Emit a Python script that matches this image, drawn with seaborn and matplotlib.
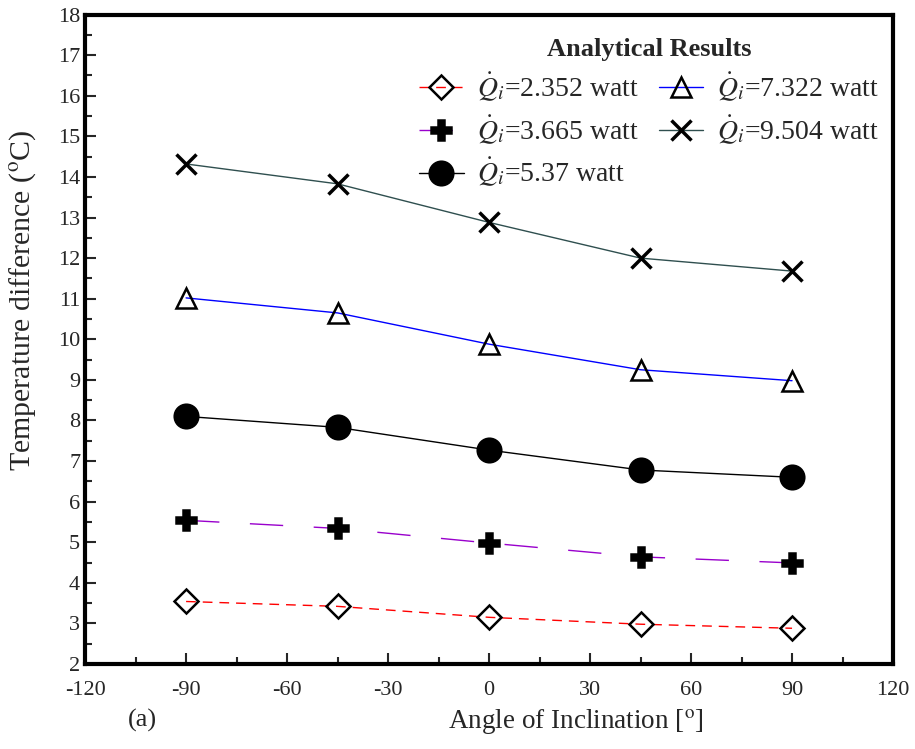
import numpy as np
import pandas as pd
import matplotlib
matplotlib.use("Agg")
import matplotlib.pyplot as plt
import seaborn as sns
from matplotlib.ticker import MultipleLocator

sns.set_style("white")
plt.rcParams['font.family'] = ['Liberation Serif', 'DejaVu Serif']
plt.rcParams['mathtext.fontset'] = 'stix'
plt.rcParams['axes.unicode_minus'] = False

angles = [-90, -45, 0, 45, 90]
q_labels = ['2.352', '3.665', '5.37', '7.322', '9.504']
dt_2352 = [3.54, 3.42, 3.15, 2.98, 2.88]
dt_3665 = [5.54, 5.34, 4.98, 4.64, 4.49]
dt_537 = [8.10, 7.83, 7.27, 6.78, 6.60]
dt_7322 = [11.02, 10.65, 9.88, 9.25, 8.98]
dt_9504 = [14.32, 13.83, 12.88, 12.00, 11.68]

series = [dt_2352, dt_3665, dt_537, dt_7322, dt_9504]
colors = ['#ff0000', '#9900cc', '#000000', '#0000ff', '#2f4f4f']
dashes = [(7, 5), (24, 22), None, None, None]
markers = ['D', 'P', 'o', '^', 'x']
msizes = [12.5, 15, 17, 15, 14]
filled = [False, True, True, False, True]

fig = plt.figure(figsize=(9.15, 7.49), dpi=100)
ax = fig.add_axes([0.093, 0.1135, 0.883, 0.867])

for q, vals, c, d, m, ms, f in zip(q_labels, series, colors, dashes, markers, msizes, filled):
    df = pd.DataFrame({'angle': angles, 'dt': vals})
    kw = dict(marker=m, markersize=ms, markeredgecolor='black',
              markerfacecolor='black' if f else 'none',
              markeredgewidth=2.5 if m == 'x' else 1.8, linewidth=1.0)
    sns.lineplot(data=df, x='angle', y='dt', color=c, ax=ax,
                 label=r'$\dot{Q}_i$=' + q + ' watt', **kw)
    if d is not None:
        ax.lines[-1].set_dashes(d)

ax.set_xlim(-120, 120)
ax.set_ylim(2, 18)
ax.xaxis.set_major_locator(MultipleLocator(30))
ax.xaxis.set_minor_locator(MultipleLocator(15))
ax.yaxis.set_major_locator(MultipleLocator(1))
ax.yaxis.set_minor_locator(MultipleLocator(0.5))
ax.tick_params(which='both', direction='in', bottom=True, left=True, top=False, right=False,
               labelsize=16, width=1.5)
ax.tick_params(which='major', length=8)
ax.tick_params(which='minor', length=5)
ax.tick_params(axis='x', pad=12)
for s in ax.spines.values():
    s.set_linewidth(3)
    s.set_color('black')

ax.set_xlabel('Angle of Inclination [$^{\\mathrm{o}}$]', fontsize=19.5)
ax.xaxis.set_label_coords(0.608, -0.066)
ax.set_ylabel('Temperature difference ($^{\\mathrm{o}}$C)', fontsize=21.5)
ax.yaxis.set_label_coords(-0.058, 0.56)
fig.text(0.14, 0.03, '(a)', fontsize=19)

leg = ax.legend(ncol=2, loc='upper right', bbox_to_anchor=(1.013, 1.002), frameon=False,
                title='Analytical Results', title_fontproperties={'weight': 'bold', 'size': 19},
                fontsize=20, handlelength=1.6, columnspacing=0.7, handletextpad=0.5,
                labelspacing=0.35)

fig.savefig('out.png', dpi=100)
